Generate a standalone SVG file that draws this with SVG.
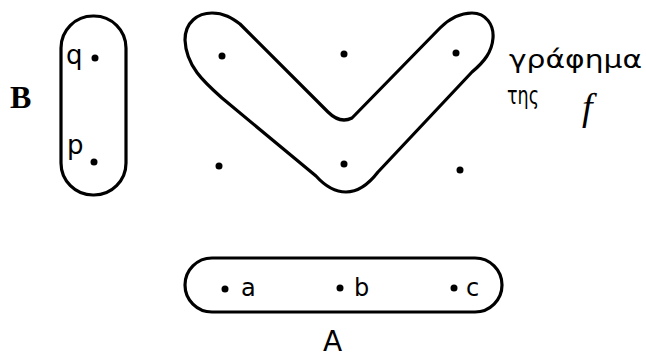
<svg xmlns="http://www.w3.org/2000/svg" width="646" height="358" viewBox="0 0 646 358">
<style>
.outline{fill:none;stroke:#000;stroke-width:3.2;stroke-linejoin:round;stroke-linecap:round}
.dot{fill:#000}
.lbl{font-family:"DejaVu Sans","Liberation Sans",sans-serif;fill:#000}
.serif{font-family:"Liberation Serif","DejaVu Serif",serif;fill:#000}
</style>
<rect width="646" height="358" fill="#fff"/>
<g id="setB">
<rect class="outline" x="61" y="16" width="65" height="179" rx="32" ry="32"/>
<text class="lbl" x="66" y="64" font-size="26">q</text>
<circle class="dot" cx="95" cy="58" r="3.5"/>
<text class="lbl" x="67" y="154" font-size="26">p</text>
<circle class="dot" cx="94" cy="162" r="3.5"/>
<text class="serif" x="10" y="108" font-size="32" font-weight="bold">B</text>
</g>
<g id="graph">
<path class="outline" d="M185,40 C185,22 198,13 212,13 C224,13 232,18 240,24 L328,112 C336,120 344,122 352,118 L440,28 C450,18 460,13 472,13 C486,13 494,25 493,38 C492,52 484,62 472,72 L378,172 C368,185 357,192 346,192 C334,192 325,186 316,176 L222,98 C204,82 186,66 185,40 Z"/>
</g>
<g id="points">
<circle class="dot" cx="222" cy="56" r="3.5"/>
<circle class="dot" cx="344" cy="54" r="3.5"/>
<circle class="dot" cx="456" cy="53" r="3.5"/>
<circle class="dot" cx="219" cy="166" r="3.5"/>
<circle class="dot" cx="344" cy="164" r="3.5"/>
<circle class="dot" cx="460" cy="170" r="3.5"/>
</g>
<g id="graph-label">
<text class="lbl" x="509" y="68" font-size="24" textLength="133" lengthAdjust="spacingAndGlyphs">γράφημα</text>
<text class="lbl" x="507" y="104" font-size="24" textLength="32" lengthAdjust="spacingAndGlyphs">της</text>
<text class="serif" x="582" y="120" font-size="38" font-style="italic">f</text>
</g>
<g id="setA">
<rect class="outline" x="185" y="258" width="317" height="54" rx="27" ry="27"/>
<circle class="dot" cx="225" cy="289" r="3.5"/>
<text class="lbl" x="241" y="296" font-size="24">a</text>
<circle class="dot" cx="340" cy="288" r="3.5"/>
<text class="lbl" x="354" y="296" font-size="24">b</text>
<circle class="dot" cx="454" cy="288" r="3.5"/>
<text class="lbl" x="466" y="296" font-size="24">c</text>
<text class="lbl" x="323" y="351" font-size="28">A</text>
</g>
<g id="connectors"/>
</svg>
